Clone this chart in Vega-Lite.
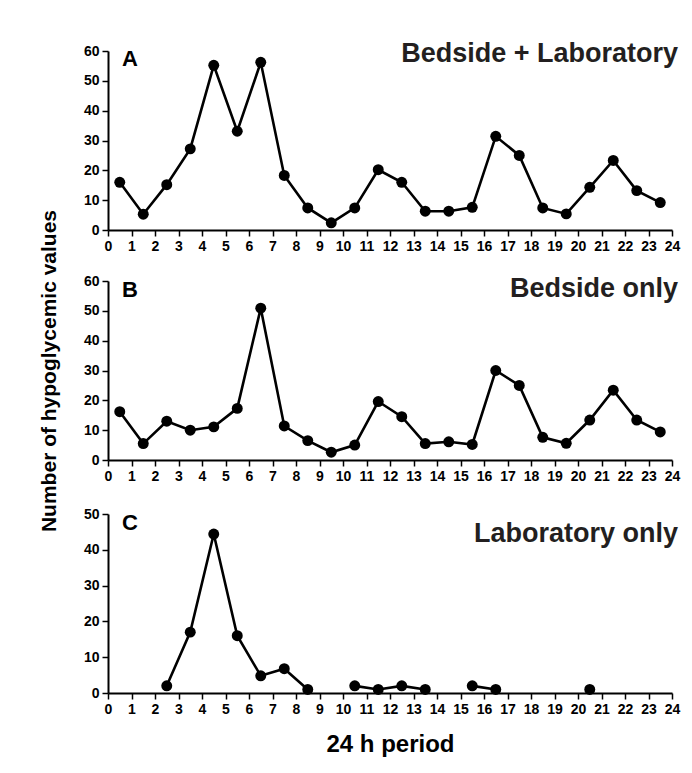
{
  "$schema": "https://vega.github.io/schema/vega-lite/v6.json",
  "background": "white",
  "padding": {"left": 38, "top": 40, "right": 5, "bottom": 5},
  "datasets": {
    "hypo": [
      {"panel": "A", "hour": 0.5, "count": 16}, {"panel": "A", "hour": 1.5, "count": 5.3}, {"panel": "A", "hour": 2.5, "count": 15.2}, {"panel": "A", "hour": 3.5, "count": 27.2},
      {"panel": "A", "hour": 4.5, "count": 55.2}, {"panel": "A", "hour": 5.5, "count": 33.1}, {"panel": "A", "hour": 6.5, "count": 56.2}, {"panel": "A", "hour": 7.5, "count": 18.3},
      {"panel": "A", "hour": 8.5, "count": 7.4}, {"panel": "A", "hour": 9.5, "count": 2.4}, {"panel": "A", "hour": 10.5, "count": 7.4}, {"panel": "A", "hour": 11.5, "count": 20.2},
      {"panel": "A", "hour": 12.5, "count": 16}, {"panel": "A", "hour": 13.5, "count": 6.3}, {"panel": "A", "hour": 14.5, "count": 6.3}, {"panel": "A", "hour": 15.5, "count": 7.6},
      {"panel": "A", "hour": 16.5, "count": 31.4}, {"panel": "A", "hour": 17.5, "count": 25}, {"panel": "A", "hour": 18.5, "count": 7.4}, {"panel": "A", "hour": 19.5, "count": 5.4},
      {"panel": "A", "hour": 20.5, "count": 14.3}, {"panel": "A", "hour": 21.5, "count": 23.3}, {"panel": "A", "hour": 22.5, "count": 13.2}, {"panel": "A", "hour": 23.5, "count": 9.2},
      {"panel": "B", "hour": 0.5, "count": 16.2}, {"panel": "B", "hour": 1.5, "count": 5.5}, {"panel": "B", "hour": 2.5, "count": 13}, {"panel": "B", "hour": 3.5, "count": 10},
      {"panel": "B", "hour": 4.5, "count": 11.1}, {"panel": "B", "hour": 5.5, "count": 17.3}, {"panel": "B", "hour": 6.5, "count": 50.9}, {"panel": "B", "hour": 7.5, "count": 11.4},
      {"panel": "B", "hour": 8.5, "count": 6.5}, {"panel": "B", "hour": 9.5, "count": 2.6}, {"panel": "B", "hour": 10.5, "count": 5}, {"panel": "B", "hour": 11.5, "count": 19.6},
      {"panel": "B", "hour": 12.5, "count": 14.5}, {"panel": "B", "hour": 13.5, "count": 5.5}, {"panel": "B", "hour": 14.5, "count": 6.1}, {"panel": "B", "hour": 15.5, "count": 5.2},
      {"panel": "B", "hour": 16.5, "count": 30}, {"panel": "B", "hour": 17.5, "count": 25}, {"panel": "B", "hour": 18.5, "count": 7.6}, {"panel": "B", "hour": 19.5, "count": 5.6},
      {"panel": "B", "hour": 20.5, "count": 13.4}, {"panel": "B", "hour": 21.5, "count": 23.4}, {"panel": "B", "hour": 22.5, "count": 13.4}, {"panel": "B", "hour": 23.5, "count": 9.4},
      {"panel": "C", "hour": 0.5, "count": null}, {"panel": "C", "hour": 1.5, "count": null}, {"panel": "C", "hour": 2.5, "count": 2}, {"panel": "C", "hour": 3.5, "count": 17},
      {"panel": "C", "hour": 4.5, "count": 44.4}, {"panel": "C", "hour": 5.5, "count": 16}, {"panel": "C", "hour": 6.5, "count": 4.8}, {"panel": "C", "hour": 7.5, "count": 6.8},
      {"panel": "C", "hour": 8.5, "count": 1}, {"panel": "C", "hour": 9.5, "count": null}, {"panel": "C", "hour": 10.5, "count": 2}, {"panel": "C", "hour": 11.5, "count": 1},
      {"panel": "C", "hour": 12.5, "count": 2}, {"panel": "C", "hour": 13.5, "count": 1}, {"panel": "C", "hour": 14.5, "count": null}, {"panel": "C", "hour": 15.5, "count": 2},
      {"panel": "C", "hour": 16.5, "count": 1}, {"panel": "C", "hour": 17.5, "count": null}, {"panel": "C", "hour": 18.5, "count": null}, {"panel": "C", "hour": 19.5, "count": null},
      {"panel": "C", "hour": 20.5, "count": 1}, {"panel": "C", "hour": 21.5, "count": null}, {"panel": "C", "hour": 22.5, "count": null}, {"panel": "C", "hour": 23.5, "count": null}
    ]
  },
  "spacing": 51,
  "bounds": "flush",
  "vconcat": [
    {
      "width": 564, "height": 179,
      "layer": [
        {
          "data": {"name": "hypo"},
          "transform": [{"filter": "datum.panel === 'A'"}],
          "encoding": {
            "x": {"field": "hour", "type": "quantitative", "scale": {"domain": [0, 24], "nice": false}, "axis": {"values": [0,1,2,3,4,5,6,7,8,9,10,11,12,13,14,15,16,17,18,19,20,21,22,23,24], "title": null}},
            "y": {"field": "count", "type": "quantitative", "scale": {"domain": [0, 60], "nice": false}, "axis": {"values": [0,10,20,30,40,50,60], "title": null}}
          },
          "layer": [
            {"mark": {"type": "line", "color": "black", "strokeWidth": 2.6, "invalid": "break-paths-filter-domains"}},
            {"mark": {"type": "point", "filled": true, "color": "black", "opacity": 1, "size": 120}}
          ]
        },
        {
          "data": {"values": [{}]},
          "mark": {"type": "text", "text": "A", "font": "Liberation Sans", "fontWeight": "bold", "fontSize": 22, "align": "left", "baseline": "alphabetic", "color": "black"},
          "encoding": {
            "x": {"datum": 0.6, "type": "quantitative", "axis": {"values": [0,1,2,3,4,5,6,7,8,9,10,11,12,13,14,15,16,17,18,19,20,21,22,23,24], "title": null}},
            "y": {"datum": 55, "type": "quantitative", "axis": {"values": [0,10,20,30,40,50,60], "title": null}}
          }
        },
        {
          "data": {"values": [{}]},
          "mark": {"type": "text", "text": "Bedside + Laboratory", "font": "Liberation Sans", "fontWeight": "bold", "fontSize": 27, "align": "right", "baseline": "alphabetic", "color": "#231f20"},
          "encoding": {
            "x": {"datum": 24.26, "type": "quantitative", "axis": {"values": [0,1,2,3,4,5,6,7,8,9,10,11,12,13,14,15,16,17,18,19,20,21,22,23,24], "title": null}},
            "y": {"datum": 56.3, "type": "quantitative", "axis": {"values": [0,10,20,30,40,50,60], "title": null}}
          }
        }
      ]
    },
    {
      "spacing": 54,
      "bounds": "flush",
      "vconcat": [
        {
          "width": 564, "height": 179,
          "layer": [
            {
              "data": {"name": "hypo"},
              "transform": [{"filter": "datum.panel === 'B'"}],
              "encoding": {
                "x": {"field": "hour", "type": "quantitative", "scale": {"domain": [0, 24], "nice": false}, "axis": {"values": [0,1,2,3,4,5,6,7,8,9,10,11,12,13,14,15,16,17,18,19,20,21,22,23,24], "title": null}},
                "y": {"field": "count", "type": "quantitative", "scale": {"domain": [0, 60], "nice": false}, "axis": {"values": [0,10,20,30,40,50,60], "title": "Number of hypoglycemic values", "titleFontSize": 21, "titlePadding": 24}}
              },
              "layer": [
                {"mark": {"type": "line", "color": "black", "strokeWidth": 2.6, "invalid": "break-paths-filter-domains"}},
                {"mark": {"type": "point", "filled": true, "color": "black", "opacity": 1, "size": 120}}
              ]
            },
            {
              "data": {"values": [{}]},
              "mark": {"type": "text", "text": "B", "font": "Liberation Sans", "fontWeight": "bold", "fontSize": 22, "align": "left", "baseline": "alphabetic", "color": "black"},
              "encoding": {
                "x": {"datum": 0.6, "type": "quantitative", "axis": {"values": [0,1,2,3,4,5,6,7,8,9,10,11,12,13,14,15,16,17,18,19,20,21,22,23,24], "title": null}},
                "y": {"datum": 54.6, "type": "quantitative", "axis": {"values": [0,10,20,30,40,50,60], "title": "Number of hypoglycemic values", "titleFontSize": 21, "titlePadding": 24}}
              }
            },
            {
              "data": {"values": [{}]},
              "mark": {"type": "text", "text": "Bedside only", "font": "Liberation Sans", "fontWeight": "bold", "fontSize": 27, "align": "right", "baseline": "alphabetic", "color": "#231f20"},
              "encoding": {
                "x": {"datum": 24.26, "type": "quantitative", "axis": {"values": [0,1,2,3,4,5,6,7,8,9,10,11,12,13,14,15,16,17,18,19,20,21,22,23,24], "title": null}},
                "y": {"datum": 54.6, "type": "quantitative", "axis": {"values": [0,10,20,30,40,50,60], "title": "Number of hypoglycemic values", "titleFontSize": 21, "titlePadding": 24}}
              }
            }
          ]
        },
        {
          "width": 564, "height": 179,
          "layer": [
            {
              "data": {"name": "hypo"},
              "transform": [{"filter": "datum.panel === 'C'"}],
              "encoding": {
                "x": {"field": "hour", "type": "quantitative", "scale": {"domain": [0, 24], "nice": false}, "axis": {"values": [0,1,2,3,4,5,6,7,8,9,10,11,12,13,14,15,16,17,18,19,20,21,22,23,24], "title": "24 h period", "titleFontSize": 24, "titlePadding": 16}},
                "y": {"field": "count", "type": "quantitative", "scale": {"domain": [0, 50], "nice": false}, "axis": {"values": [0,10,20,30,40,50], "title": null}}
              },
              "layer": [
                {"mark": {"type": "line", "color": "black", "strokeWidth": 2.6, "invalid": "break-paths-filter-domains"}},
                {"transform": [{"filter": "datum.count !== null"}], "mark": {"type": "point", "filled": true, "color": "black", "opacity": 1, "size": 120}}
              ]
            },
            {
              "data": {"values": [{}]},
              "mark": {"type": "text", "text": "C", "font": "Liberation Sans", "fontWeight": "bold", "fontSize": 22, "align": "left", "baseline": "alphabetic", "color": "black"},
              "encoding": {
                "x": {"datum": 0.6, "type": "quantitative", "axis": {"values": [0,1,2,3,4,5,6,7,8,9,10,11,12,13,14,15,16,17,18,19,20,21,22,23,24], "title": "24 h period", "titleFontSize": 24, "titlePadding": 16}},
                "y": {"datum": 45.5, "type": "quantitative", "axis": {"values": [0,10,20,30,40,50], "title": null}}
              }
            },
            {
              "data": {"values": [{}]},
              "mark": {"type": "text", "text": "Laboratory only", "font": "Liberation Sans", "fontWeight": "bold", "fontSize": 27, "align": "right", "baseline": "alphabetic", "color": "#231f20"},
              "encoding": {
                "x": {"datum": 24.26, "type": "quantitative", "axis": {"values": [0,1,2,3,4,5,6,7,8,9,10,11,12,13,14,15,16,17,18,19,20,21,22,23,24], "title": "24 h period", "titleFontSize": 24, "titlePadding": 16}},
                "y": {"datum": 42.2, "type": "quantitative", "axis": {"values": [0,10,20,30,40,50], "title": null}}
              }
            }
          ]
        }
      ]
    }
  ],
  "config": {
    "view": {"stroke": null},
    "axis": {
      "grid": false,
      "domainColor": "black",
      "domainWidth": 2,
      "tickColor": "black",
      "tickWidth": 1.5,
      "tickSize": 6,
      "labelFont": "Liberation Sans",
      "labelFontWeight": "bold",
      "labelFontSize": 14,
      "labelColor": "black",
      "labelOverlap": false,
      "labelFlush": false,
      "labelPadding": 3,
      "titleFont": "Liberation Sans",
      "titleFontWeight": "bold",
      "titleColor": "black"
    },
    "axisX": {"labelAngle": 0}
  }
}
